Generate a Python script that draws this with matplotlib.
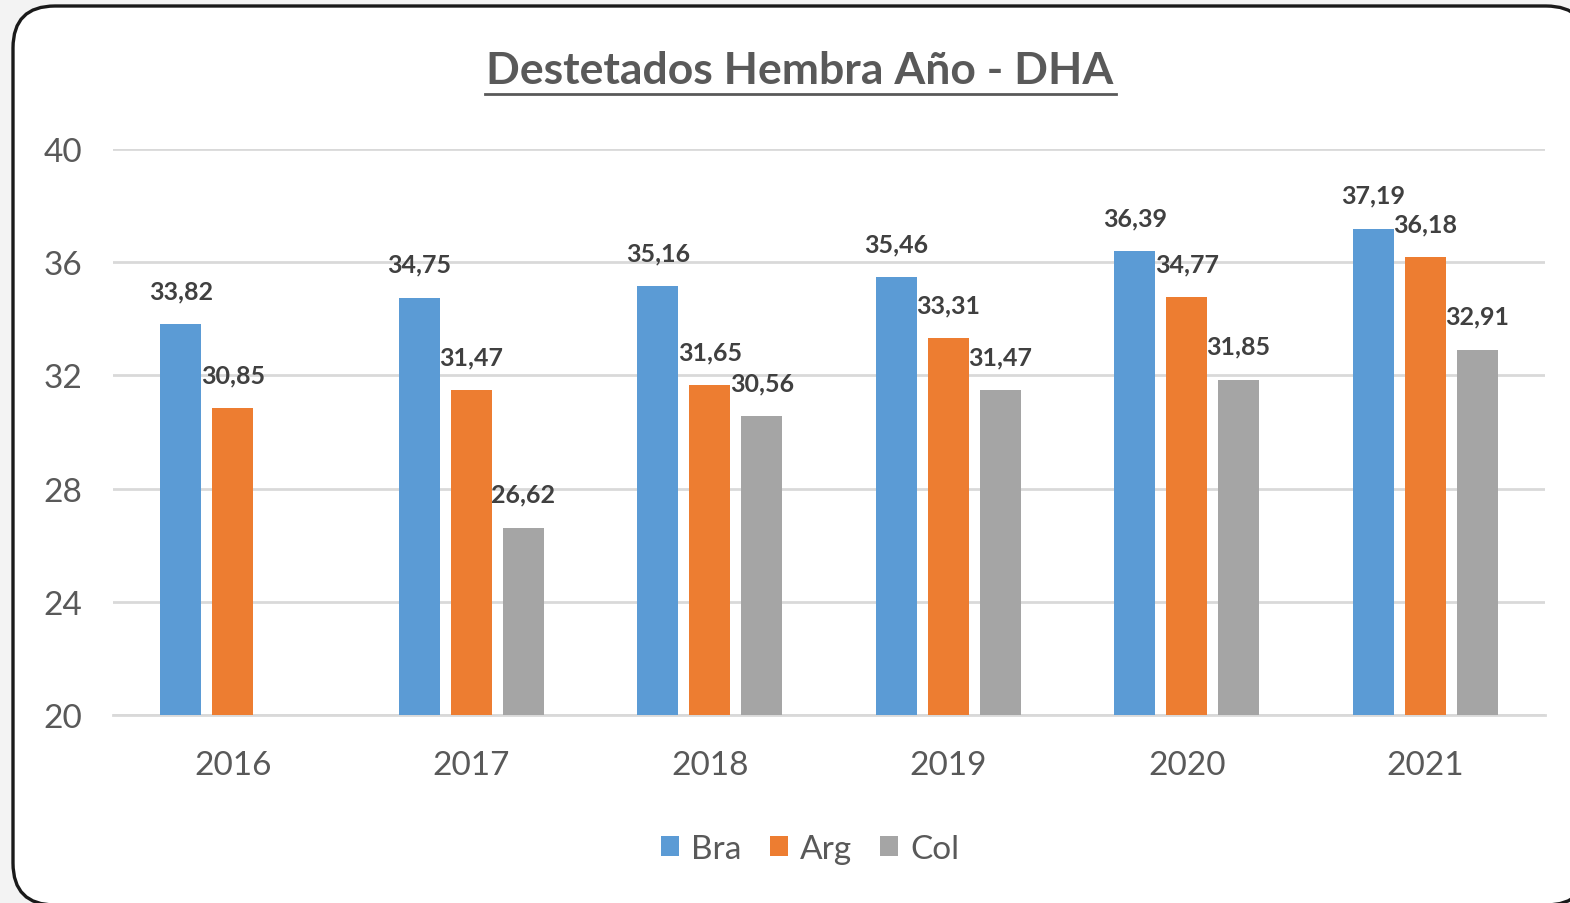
import numpy as np
import matplotlib
matplotlib.use("Agg")
import matplotlib.pyplot as plt
from matplotlib.patches import FancyBboxPatch
from matplotlib.transforms import IdentityTransform

plt.rcParams['font.family'] = ['Lato', 'DejaVu Sans']

years = ["2016", "2017", "2018", "2019", "2020", "2021"]
bra = [33.82, 34.75, 35.16, 35.46, 36.39, 37.19]
arg = [30.85, 31.47, 31.65, 33.31, 34.77, 36.18]
col = [np.nan, 26.62, 30.56, 31.47, 31.85, 32.91]
series = ["Bra", "Arg", "Col"]
colors = ["#5B9BD5", "#ED7D31", "#A5A5A5"]

DPI = 100
fig = plt.figure(figsize=(15.7, 9.04), dpi=DPI, facecolor="#f3f3f3")

# rounded white frame, partly cut off at right / bottom
frame = FancyBboxPatch((13, -2), 1575, 899, boxstyle="round,pad=0,rounding_size=42",
                       transform=IdentityTransform(), facecolor="white",
                       edgecolor="#1a1a1a", linewidth=2.4, zorder=-5)
fig.patches.append(frame)

ax = fig.add_axes([113/1570, 1-716/904, (1545-113)/1570, (716-150)/904], zorder=2)
ax.set_facecolor("none")

x = np.arange(len(years))
w = 0.172
step = 0.218
for i, (name, vals, c) in enumerate(zip(series, [bra, arg, col], colors)):
    pos = x + (i - 1) * step
    ax.bar(pos, np.array(vals) - 20, width=w, bottom=20, color=c, label=name, zorder=3)
    for px, v in zip(pos, vals):
        if np.isnan(v):
            continue
        ax.annotate(f"{v:.2f}".replace(".", ","), (px, v), xytext=(0, 24),
                    textcoords="offset points", ha="center", va="center",
                    fontsize=18, fontweight="bold", color="#404040", zorder=4)

ax.set_ylim(20, 40)
ax.set_xlim(-0.503, 5.503)
ax.set_yticks(range(20, 41, 4))
ax.set_xticks(x)
ax.set_xticklabels(years)
ax.tick_params(length=0, labelsize=24, labelcolor="#595959")
ax.tick_params(axis="x", pad=25)
ax.tick_params(axis="y", pad=22)
ax.grid(axis="y", color="#d9d9d9", linewidth=2, zorder=0)
for s in ["top", "right", "left"]:
    ax.spines[s].set_visible(False)
ax.spines["bottom"].set_color("#d9d9d9")
ax.spines["bottom"].set_linewidth(2)

fig.text(800/1570, 1-71/904, "Destetados Hembra Año - DHA", ha="center", va="center",
         fontsize=32, fontweight="bold", color="#595959")
# underline
fig.add_artist(plt.Line2D([485/1570, 1116/1570], [1-95/904, 1-95/904],
                          color="#595959", linewidth=2))

leg = fig.legend(loc="center", bbox_to_anchor=(810/1570, 1-850/904), ncol=3,
                 frameon=False, fontsize=24, handlelength=0.55, handleheight=0.55,
                 handletextpad=0.35, columnspacing=0.85, labelcolor="#595959")

fig.savefig("out.png", dpi=DPI, facecolor=fig.get_facecolor())
